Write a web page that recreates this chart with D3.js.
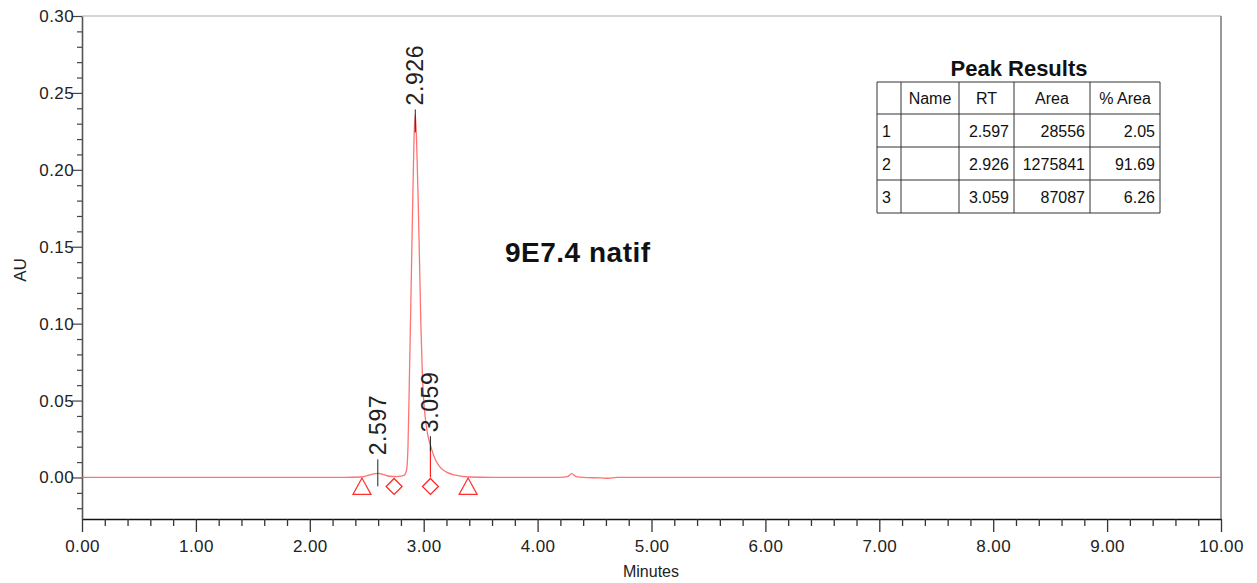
<!DOCTYPE html>
<html lang="en">
<head>
  <meta charset="UTF-8">
  <title>9E7.4 natif</title>
  <style>
    body { margin: 0; background: #fff; }
    svg text { font-family: "Liberation Sans", Arial, sans-serif; }
  </style>
</head>
<body>
  <svg id="chart" width="1257" height="583"></svg>
  <script src="https://cdn.jsdelivr.net/npm/d3@7"></script>
  <script>
    // chromatogram trace (minutes, AU)
    var traceTime = [0, 1.0, 2.0, 2.3, 2.45, 2.52, 2.56, 2.60, 2.65, 2.70, 2.76, 2.80, 2.83, 2.85, 2.862, 2.872, 2.885, 2.90, 2.915, 2.926,
                     2.937, 2.95, 2.962, 2.975, 2.988, 3.00, 3.015, 3.035, 3.059, 3.08, 3.10, 3.14, 3.20, 3.28, 3.40, 3.6,
                     4.2, 4.26, 4.30, 4.34, 4.40, 4.55, 4.62, 4.70, 6.0, 8.0, 10.0];
    var traceAU   = [0, 0, 0, 0, 0.0003, 0.0015, 0.0024, 0.0027, 0.0018, 0.0008, 0.0005, 0.0008, 0.0015, 0.005, 0.02, 0.055, 0.105, 0.165, 0.22, 0.236,
                     0.22, 0.185, 0.145, 0.10, 0.068, 0.05, 0.038, 0.028, 0.021, 0.016, 0.012, 0.007, 0.0035, 0.0015, 0.0003, 0,
                     0, 0.0005, 0.0025, 0.0005, 0, -0.0003, -0.0005, 0, 0, 0, 0];

    // peak table
    var peakNo   = [1, 2, 3];
    var peakRT   = [2.597, 2.926, 3.059];
    var peakArea = [28556, 1275841, 87087];
    var peakPct  = [2.05, 91.69, 6.26];
    var peakTop  = [0.0027, 0.236, 0.021];   // trace height at each label
    var baseStart = [2.458, 3.39];          // triangles
    var baseDrop  = [2.74, 3.059];          // diamonds

    var xMajor = [0, 1, 2, 3, 4, 5, 6, 7, 8, 9, 10];
    var yMajor = [0, 0.05, 0.10, 0.15, 0.20, 0.25, 0.30];

    var svg = d3.select('#chart');
    var x = d3.scaleLinear().domain([0, 10]).range([82, 1221]);
    var y = d3.scaleLinear().domain([-0.027, 0.30]).range([519, 16]);

    // frame
    svg.append('line').attr('x1', 82).attr('x2', 1221).attr('y1', 16).attr('y2', 16).attr('stroke', '#aaa');
    svg.append('line').attr('x1', 1221).attr('x2', 1221).attr('y1', 16).attr('y2', 519).attr('stroke', '#777').attr('stroke-width', 1.5);

    // minor ticks
    var xMinor = d3.range(0, 10.001, 0.2).filter(function(d) { return Math.abs(d - Math.round(d)) > 0.01; });
    var yMinor = d3.range(-0.02, 0.3001, 0.01).filter(function(d) { return Math.abs(d * 20 - Math.round(d * 20)) > 0.01; });

    var gx = svg.append('g').attr('transform', 'translate(0,519)');
    gx.call(d3.axisBottom(x).tickValues(xMinor).tickFormat('').tickSize(7).tickSizeOuter(0));
    gx.append('g').call(d3.axisBottom(x).tickValues(xMajor).tickFormat(d3.format('.2f')).tickSize(13).tickSizeOuter(0))
      .call(function(g) { g.select('.domain').remove(); });
    gx.selectAll('.domain').attr('stroke', '#111').attr('stroke-width', 1.6);
    gx.selectAll('line').attr('stroke', '#333').attr('stroke-width', 1.3);
    gx.selectAll('text').attr('font-size', 17).attr('fill', '#222').attr('dy', '1.0em').attr('letter-spacing', 0.4);

    var gy = svg.append('g').attr('transform', 'translate(82,0)');
    gy.call(d3.axisLeft(y).tickValues(yMinor).tickFormat('').tickSize(5).tickSizeOuter(0));
    gy.append('g').call(d3.axisLeft(y).tickValues(yMajor).tickFormat(d3.format('.2f')).tickSize(10).tickSizeOuter(0))
      .call(function(g) { g.select('.domain').remove(); });
    gy.selectAll('.domain').attr('stroke', '#555').attr('stroke-width', 1.6);
    gy.selectAll('line').attr('stroke', '#444').attr('stroke-width', 1.2);
    gy.selectAll('text').attr('font-size', 17).attr('fill', '#222').attr('x', -8).attr('letter-spacing', 0.4);

    svg.append('text').attr('x', 651).attr('y', 577).attr('text-anchor', 'middle')
      .attr('font-size', 16).attr('fill', '#222').text('Minutes');
    svg.append('text').attr('transform', 'translate(26,270) rotate(-90)').attr('text-anchor', 'middle')
      .attr('font-size', 17).attr('fill', '#222').text('AU');

    // trace
    var pts = traceTime.map(function(t, i) { return [t, traceAU[i]]; });
    svg.append('path').datum(pts)
      .attr('fill', 'none').attr('stroke', '#ff5a5a').attr('stroke-width', 1.3).attr('stroke-opacity', 0.85)
      .attr('d', d3.line().x(function(d) { return x(d[0]); }).y(function(d) { return y(d[1]); }).curve(d3.curveMonotoneX));

    // drop line at third peak
    svg.append('line').attr('x1', x(peakRT[2])).attr('x2', x(peakRT[2]))
      .attr('y1', y(peakTop[2])).attr('y2', y(0)).attr('stroke', '#ff2020').attr('stroke-width', 1.2);

    // baseline markers
    svg.selectAll('.tri').data(baseStart).enter().append('path')
      .attr('transform', function(d) { return 'translate(' + x(d) + ',' + (y(0) + 9) + ')'; })
      .attr('d', 'M0,-8.5L9,8L-9,8Z').attr('fill', 'none').attr('stroke', '#ff3030').attr('stroke-width', 1.2);
    svg.selectAll('.dia').data(baseDrop).enter().append('path')
      .attr('transform', function(d) { return 'translate(' + x(d) + ',' + (y(0) + 9) + ')'; })
      .attr('d', 'M0,-8L8,0L0,8L-8,0Z').attr('fill', 'none').attr('stroke', '#ff2020').attr('stroke-width', 1.2);

    // peak labels: tick spans [apex - up, apex + down]
    var tickUp   = [14, 5, 9];
    var tickDown = [13, 18, 6];
    peakRT.forEach(function(rt, i) {
      var px = x(rt), ay = y(peakTop[i]);
      var top = ay - tickUp[i];
      svg.append('line').attr('x1', px).attr('x2', px).attr('y1', ay + tickDown[i]).attr('y2', top)
        .attr('stroke', '#222').attr('stroke-width', 1);
      svg.append('text').attr('transform', 'translate(' + (px + 8) + ',' + (top - 4) + ') rotate(-90)')
        .attr('font-size', 23).attr('fill', '#222').attr('letter-spacing', 0.6).text(d3.format('.3f')(rt));
    });

    svg.append('text').attr('x', 505).attr('y', 262).attr('font-size', 28).attr('font-weight', 'bold')
      .attr('letter-spacing', 0.5).attr('fill', '#111').text('9E7.4 natif');

    // peak results table
    var colX = [877, 901, 959, 1014, 1090, 1160];
    var rowY = [82, 114, 147, 180, 213];
    var head = ['', 'Name', 'RT', 'Area', '% Area'];
    var tbl = svg.append('g');
    tbl.append('text').attr('x', 1019).attr('y', 76).attr('text-anchor', 'middle')
      .attr('font-size', 22).attr('font-weight', 'bold').attr('fill', '#111').text('Peak Results');
    colX.forEach(function(cx) {
      tbl.append('line').attr('x1', cx).attr('x2', cx).attr('y1', rowY[0]).attr('y2', rowY[4]).attr('stroke', '#333');
    });
    rowY.forEach(function(ry) {
      tbl.append('line').attr('x1', colX[0]).attr('x2', colX[5]).attr('y1', ry).attr('y2', ry).attr('stroke', '#333');
    });
    head.forEach(function(h, j) {
      tbl.append('text').attr('x', (colX[j] + colX[j + 1]) / 2).attr('y', (rowY[0] + rowY[1]) / 2 + 6)
        .attr('text-anchor', 'middle').attr('font-size', 16).attr('fill', '#111').text(h);
    });
    peakNo.forEach(function(n, i) {
      var cy = (rowY[i + 1] + rowY[i + 2]) / 2 + 6;
      var cells = [n, '', d3.format('.3f')(peakRT[i]), peakArea[i], d3.format('.2f')(peakPct[i])];
      cells.forEach(function(c, j) {
        tbl.append('text').attr('x', j === 0 ? colX[0] + 5 : colX[j + 1] - 5).attr('y', cy)
          .attr('text-anchor', j === 0 ? 'start' : 'end').attr('font-size', 16).attr('fill', '#111').text(c);
      });
    });
  </script>
</body>
</html>
